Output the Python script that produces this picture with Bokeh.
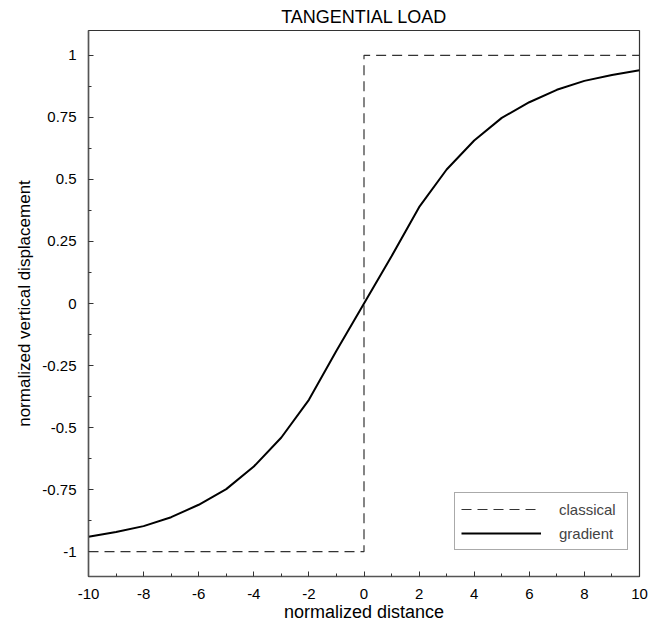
from bokeh.plotting import figure
from bokeh.models import FixedTicker, Legend, LegendItem
from bokeh.embed import file_html
from bokeh.resources import INLINE

# ---- data ----
x_gradient = [-10, -9, -8, -7, -6, -5, -4, -3, -2, -1, 0, 1, 2, 3, 4, 5, 6, 7, 8, 9, 10]
y_gradient = [-0.94, -0.921, -0.897, -0.861, -0.811, -0.748, -0.657, -0.54, -0.388, -0.19, 0.0,
              0.19, 0.388, 0.54, 0.657, 0.748, 0.811, 0.861, 0.897, 0.921, 0.94]
x_classical = [-10, 0, 0, 10]
y_classical = [-1, -1, 1, 1]

x_ticks = [-10, -8, -6, -4, -2, 0, 2, 4, 6, 8, 10]
x_minor = [-9, -7, -5, -3, -1, 1, 3, 5, 7, 9]
y_ticks = [-1, -0.75, -0.5, -0.25, 0, 0.25, 0.5, 0.75, 1]
y_tick_labels = ["-1", "-0.75", "-0.5", "-0.25", "0", "0.25", "0.5", "0.75", "1"]
y_minor = [-0.875, -0.625, -0.375, -0.125, 0.125, 0.375, 0.625, 0.875]

FONT = "Liberation Sans"

p = figure(width=649, height=626, x_range=(-10, 10), y_range=(-1.1, 1.1),
           output_backend="svg", toolbar_location=None,
           min_border_left=88, min_border_right=10, min_border_top=26, min_border_bottom=50,
           title="TANGENTIAL LOAD")

p.title.align = "center"
p.title.text_font = FONT
p.title.text_font_size = "18px"
p.title.text_font_style = "normal"
p.title.text_color = "#000000"
p.title.standoff = 8

p.xgrid.visible = False
p.ygrid.visible = False
p.outline_line_color = "#333333"
p.outline_line_width = 1.2

p.xaxis.ticker = FixedTicker(ticks=x_ticks, minor_ticks=x_minor)
p.yaxis.ticker = FixedTicker(ticks=y_ticks, minor_ticks=y_minor)
p.yaxis.major_label_overrides = {v: s for v, s in zip(y_ticks, y_tick_labels)}
p.xaxis.major_label_overrides = {v: str(v) for v in x_ticks}

for ax in (p.xaxis[0], p.yaxis[0]):
    ax.axis_line_color = "#555555"
    ax.axis_line_width = 1.5
    ax.major_tick_in = 5
    ax.major_tick_out = 0
    ax.minor_tick_in = 3
    ax.minor_tick_out = 0
    ax.major_tick_line_color = "#333333"
    ax.minor_tick_line_color = "#333333"
    ax.major_label_text_font = FONT
    ax.major_label_text_font_size = "15px"
    ax.major_label_text_color = "#000000"
    ax.axis_label_text_font = FONT
    ax.axis_label_text_font_style = "normal"
    ax.axis_label_text_color = "#000000"

p.xaxis.axis_label = "normalized distance"
p.yaxis.axis_label = "normalized vertical displacement"
p.xaxis.axis_label_text_font_size = "18px"
p.yaxis.axis_label_text_font_size = "17px"
p.xaxis.major_label_standoff = 12
p.xaxis.axis_label_standoff = 0
p.yaxis.major_label_standoff = 12
p.yaxis.axis_label_standoff = 5

r_cls = p.line(x_classical, y_classical, line_color="#333333", line_width=1.2, line_dash="10 6")
r_grad = p.line(x_gradient, y_gradient, line_color="#000000", line_width=2)

legend = Legend(items=[LegendItem(label="classical", renderers=[r_cls]),
                       LegendItem(label="gradient", renderers=[r_grad])],
                location=(366, 26))
legend.border_line_color = "#555555"
legend.border_line_width = 1
legend.glyph_width = 80
legend.glyph_height = 20
legend.label_standoff = 18
legend.label_width = 62
legend.padding = 6
legend.spacing = 4
legend.margin = 0
legend.label_text_font = FONT
legend.label_text_font_size = "15px"
p.add_layout(legend, "center")

open("out.html", "w").write(file_html(p, INLINE))
